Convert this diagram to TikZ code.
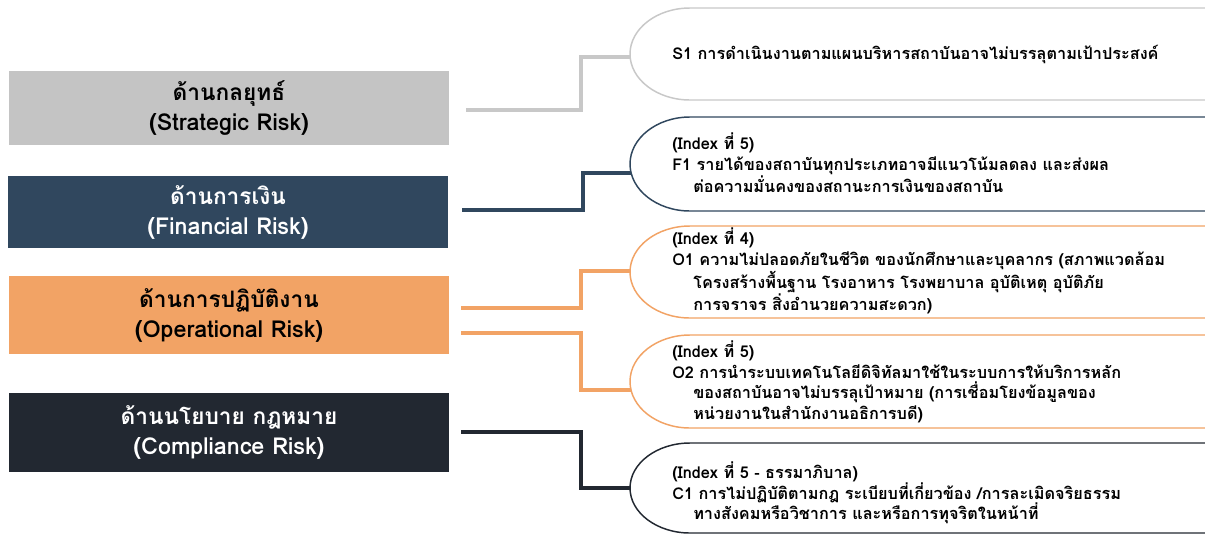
\documentclass[tikz,border=0pt]{standalone}
\usepackage{fontspec}
\setmainfont[Script=Thai]{Loma}
\usetikzlibrary{calc}
\definecolor{cgray}{HTML}{C4C4C4}
\definecolor{cgrayline}{HTML}{C8C8C8}
\definecolor{cfin}{HTML}{30475E}
\definecolor{cops}{HTML}{F2A365}
\definecolor{ccomp}{HTML}{222831}
\newcommand\latline[1]{{\fontsize{17.5}{22.5}\selectfont #1}}
\begin{document}
\begin{tikzpicture}[x=0.75pt,y=-0.75pt,
  leftbox/.style={draw=none,minimum width=330pt,inner sep=0pt,align=center,
    font=\bfseries\fontsize{17}{22.5}\selectfont},
  conn/.style={line width=3pt},
  rbox/.style={line width=1.1pt,fill=white},
  rtext/.style={anchor=west,inner sep=0pt,align=left,
    font=\bfseries\fontsize{12.2}{15.4}\selectfont}]
\path[use as bounding box] (0,0) rectangle (1205,533);
\clip (0,0) rectangle (1205,533);
\fill[white] (0,0) rectangle (1205,533);
% left boxes
\node[leftbox,fill=cgray,minimum height=55.5pt,text=black] (strat) at (229,108) {ด้านกลยุทธ์\\\latline{(Strategic Risk)}};
\node[leftbox,fill=cfin,minimum height=54pt,text=white] (fin) at (228,212) {ด้านการเงิน\\\latline{(Financial Risk)}};
\node[leftbox,fill=cops,minimum height=58.5pt,text=black] (ops) at (229,315) {ด้านการปฏิบัติงาน\\\latline{(Operational Risk)}};
\node[leftbox,fill=ccomp,minimum height=59.25pt,text=white] (comp) at (229,432.5) {ด้านนโยบาย กฎหมาย\\\latline{(Compliance Risk)}};
% right boxes
\draw[rbox,draw=cgrayline] (1230,8) -- (690,8) .. controls (657,8) and (630,28.6) .. (630,54) .. controls (630,79.4) and (657,100) .. (690,100) -- (1230,100);
\draw[rbox,draw=cfin] (1230,117) -- (690,117) .. controls (657,117) and (630,138.1) .. (630,164) .. controls (630,189.9) and (657,211) .. (690,211) -- (1230,211);
\draw[rbox,draw=cops] (1230,226) -- (690,226) .. controls (657,226) and (630,246.6) .. (630,272) .. controls (630,297.4) and (657,318) .. (690,318) -- (1230,318);
\draw[rbox,draw=cops] (1230,335) -- (690,335) .. controls (657,335) and (630,355.8) .. (630,381.5) .. controls (630,407.2) and (657,428) .. (690,428) -- (1230,428);
\draw[rbox,draw=ccomp] (1230,443) -- (690,443) .. controls (657,443) and (630,463.2) .. (630,488) .. controls (630,512.8) and (657,533) .. (690,533) -- (1230,533);
% texts
\node[rtext] (s1) at (672,54) {S1 การดำเนินงานตามแผนบริหารสถาบันอาจไม่บรรลุตามเป้าประสงค์};
\node[rtext] (f1) at (672,163) {(Index ที่ 5)\\F1 รายได้ของสถาบันทุกประเภทอาจมีแนวโน้มลดลง  และส่งผล\\\hspace*{15.75pt}ต่อความมั่นคงของสถานะการเงินของสถาบัน};
\node[rtext] (o1) at (672,271) {(Index ที่ 4)\\O1 ความไม่ปลอดภัยในชีวิต ของนักศึกษาและบุคลากร (สภาพแวดล้อม\\\hspace*{15.75pt}โครงสร้างพื้นฐาน โรงอาหาร โรงพยาบาล  อุบัติเหตุ  อุบัติภัย\\\hspace*{15.75pt}การจราจร  สิ่งอำนวยความสะดวก)};
\node[rtext] (o2) at (672,382) {(Index ที่ 5)\\O2 การนำระบบเทคโนโลยีดิจิทัลมาใช้ในระบบการให้บริการหลัก\\\hspace*{15.75pt}ของสถาบันอาจไม่บรรลุเป้าหมาย (การเชื่อมโยงข้อมูลของ\\\hspace*{15.75pt}หน่วยงานในสำนักงานอธิการบดี)};
\node[rtext] (c1) at (672,493) {(Index ที่ 5 - ธรรมาภิบาล)\\C1 การไม่ปฏิบัติตามกฎ ระเบียบที่เกี่ยวข้อง /การละเมิดจริยธรรม\\\hspace*{15.75pt}ทางสังคมหรือวิชาการ และหรือการทุจริตในหน้าที่};
% connector end points
\coordinate (s0) at ($(strat.east)+(17,2)$);
\coordinate (f0) at ($(fin.east)+(14,-2)$);
\coordinate (o0a) at ($(ops.east)+(12,-7)$);
\coordinate (o0b) at ($(ops.east)+(12,18)$);
\coordinate (c0) at ($(comp.east)+(12,-0.5)$);
\coordinate (s1in) at (631,57);
\coordinate (f1in) at (631,173);
\coordinate (o1in) at (631,271);
\coordinate (o2in) at (631,390);
\coordinate (c1in) at (631,488);
\draw[conn,draw=cgrayline] (s0) -- ++(115,0) |- (s1in);
\draw[conn,draw=cfin] (f0) -- ++(121,0) |- (f1in);
\draw[conn,draw=cops] (o0a) -- ++(120,0) |- (o1in);
\draw[conn,draw=cops] (o0b) -- ++(120,0) |- (o2in);
\draw[conn,draw=ccomp] (c0) -- ++(120,0) |- (c1in);
\end{tikzpicture}
\end{document}
